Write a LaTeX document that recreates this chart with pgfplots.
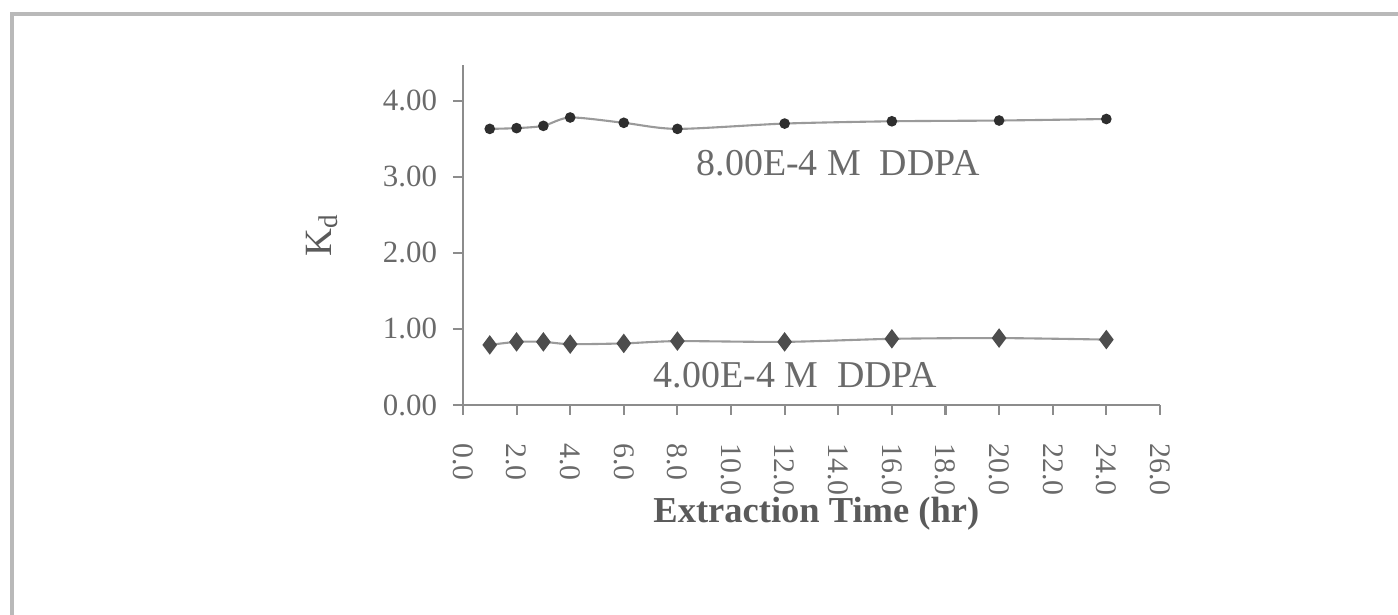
\documentclass[border=0pt]{standalone}
\usepackage{fontspec}
\setmainfont{Liberation Serif}
\usepackage{pgfplots}
\pgfplotsset{compat=1.18}
\definecolor{txtgray}{HTML}{6A6A6A}
\definecolor{axgray}{HTML}{8C8C8C}
\definecolor{linegray}{HTML}{9A9A9A}
\definecolor{markgray}{HTML}{2E2E2E}

\begin{document}
\begin{tikzpicture}
\path[use as bounding box] (0,0) rectangle (14,6.149);
\draw[gray!55, line width=1.3pt] (0.12,-0.1) -- (0.12,6.008) -- (14.1,6.008);
\begin{axis}[
  at={(4.636cm,2.093cm)}, anchor=south west,
  scale only axis, width=6.98cm, height=3.405cm,
  xmin=0, xmax=26, ymin=0, ymax=4.47,
  axis x line=bottom, axis y line=left,
  x axis line style={-, draw=axgray, line width=0.6pt},
  y axis line style={-, draw=axgray, line width=0.6pt},
  xtick={0,2,...,26}, ytick={0,1,2,3,4},
  tick align=outside, major tick length=0.1cm,
  tick style={draw=axgray, line width=0.6pt},
  /pgf/number format/assume math mode=true,
  xticklabel style={rotate=-90, anchor=west, xshift=0.16cm,
    font=\fontsize{8.5}{10}\selectfont, text=txtgray,
    /pgf/number format/.cd, fixed, fixed zerofill, precision=1},
  yticklabel style={font=\fontsize{8.8}{10}\selectfont, text=txtgray, xshift=-1pt,
    /pgf/number format/.cd, fixed, fixed zerofill, precision=2},
  xlabel={\textbf{Extraction Time (hr)}},
  xlabel style={at={(axis description cs:0.507,0)}, anchor=base,
    yshift=-1.18cm, font=\fontsize{10.4}{12}\selectfont, text=txtgray!85!black},
  ylabel={K\textsubscript{d}},
  ylabel style={at={(axis description cs:0,0.5)}, anchor=center,
    yshift=1.41cm, font=\fontsize{11}{12}\selectfont, text=txtgray!85!black},
  clip=false,
]
\addplot[smooth, tension=0.45, color=linegray, line width=0.6pt,
  mark=*, mark size=1.2pt, mark options={fill=markgray, draw=markgray}]
  coordinates {(1,3.63)(2,3.64)(3,3.67)(4,3.78)(6,3.71)(8,3.63)
               (12,3.70)(16,3.73)(20,3.74)(24,3.76)};
\addplot[smooth, tension=0.45, color=linegray, line width=0.6pt,
  mark=diamond*, mark size=2.3pt, mark options={fill=markgray!85, draw=markgray!85}]
  coordinates {(1,0.79)(2,0.83)(3,0.83)(4,0.80)(6,0.81)(8,0.84)
               (12,0.83)(16,0.87)(20,0.88)(24,0.86)};
\node[font=\fontsize{10.8}{12}\selectfont, text=txtgray] at (axis cs:14.0,3.18)
  {8.00E-4 M\hspace{0.5em}DDPA};
\node[font=\fontsize{10.8}{12}\selectfont, text=txtgray] at (axis cs:12.4,0.39)
  {4.00E-4 M\hspace{0.5em}DDPA};
\end{axis}
\end{tikzpicture}
\end{document}
